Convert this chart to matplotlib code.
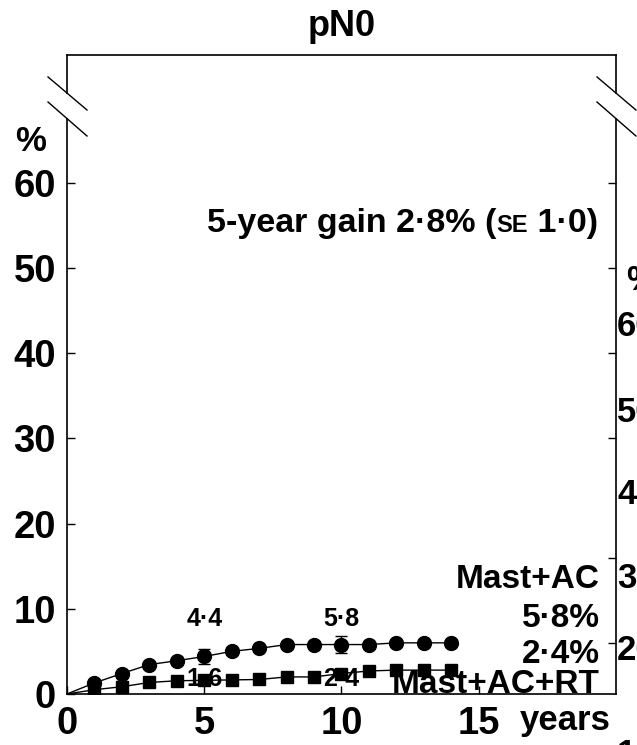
import matplotlib
matplotlib.use("Agg")
import matplotlib.pyplot as plt
import matplotlib.transforms as mtransforms

plt.rcParams["font.family"] = ["Liberation Sans", "DejaVu Sans"]
plt.rcParams["font.weight"] = "bold"

# cumulative risk (%) by year since randomisation
years = [0, 1, 2, 3, 4, 5, 6, 7, 8, 9, 10, 11, 12, 13, 14]
mast_ac = [0, 1.3, 2.4, 3.45, 3.9, 4.4, 5.0, 5.35, 5.8, 5.8, 5.8, 5.8, 6.0, 6.0, 6.0]
mast_ac_rt = [0, 0.5, 0.85, 1.35, 1.55, 1.6, 1.65, 1.7, 2.0, 2.0, 2.4, 2.7, 2.8, 2.8, 2.8]

se_years = [5, 10]
mast_ac_se = [0.9, 1.0]
mast_ac_rt_se = [0.4, 0.5]

# 10-year risks quoted at the right
risk_ac = 5.8
risk_ac_rt = 2.4

x_ticks = [0, 5, 10, 15]
y_ticks = [0, 10, 20, 30, 40, 50, 60]
right_ticks = [6, 16, 30, 40, 50, 60]

title = "pN0"
gain_parts = [("5-year gain 2·8% (", 24.5), ("SE", 17), (" 1·0)", 24.5)]


def fmt(v):
    return f"{v:.1f}".replace(".", "·")


fig = plt.figure(figsize=(6.37, 7.45), dpi=100)
ax = fig.add_axes([0.1052, 0.0685, 0.8618, 0.8577])

ax.set_xlim(0, 20)
ax.set_ylim(0, 75)

ax.plot(years, mast_ac, color="black", lw=1.0, marker="o", ms=10,
        markevery=slice(1, None), zorder=3)
ax.plot(years, mast_ac_rt, color="black", lw=1.0, marker="s", ms=8,
        markevery=slice(1, None), zorder=3)

ac_at = [mast_ac[years.index(y)] for y in se_years]
rt_at = [mast_ac_rt[years.index(y)] for y in se_years]
ax.errorbar(se_years, ac_at, yerr=mast_ac_se, fmt="none", ecolor="black",
            elinewidth=1.0, capsize=4, zorder=2)
ax.errorbar(se_years, rt_at, yerr=mast_ac_rt_se, fmt="none", ecolor="black",
            elinewidth=1.0, capsize=3, zorder=2)

# point values at 5 and 10 years
for y, v in zip(se_years, ac_at):
    ax.text(y, 8.8, fmt(v), ha="center", va="center", fontsize=18)
for y, v in zip(se_years, rt_at):
    ax.text(y, 1.75, fmt(v), ha="center", va="center", fontsize=18, zorder=4)

# curve labels at the right
lab_x = 19.42
ax.text(lab_x, 13.4, "Mast+AC", ha="right", va="center", fontsize=24, zorder=5)
ax.text(lab_x, 8.8, fmt(risk_ac) + "%", ha="right", va="center", fontsize=24,
        zorder=5)
ax.text(lab_x, 4.6, fmt(risk_ac_rt) + "%", ha="right", va="center",
        fontsize=24, zorder=5)
ax.text(lab_x, 1.1, "Mast+AC+RT", ha="right", va="center", fontsize=24,
        zorder=5)

# gain annotation, "SE" in small capitals
fig.canvas.draw()
renderer = fig.canvas.get_renderer()
px, py = ax.transAxes.transform((0.255, 0.723))
for txt, size in gain_parts:
    t = ax.text(px, py, txt, transform=None, ha="left", va="baseline",
                fontsize=size)
    px = t.get_window_extent(renderer).x1

# ticks and tick labels
ax.set_xticks(x_ticks)
ax.set_xticklabels([str(v) for v in x_ticks])
ax.set_yticks(y_ticks)
ax.set_yticklabels([str(v) for v in y_ticks])
ax.tick_params(axis="both", direction="in", length=6, width=1.0,
               labelsize=27.5, colors="black")
ax.tick_params(axis="x", pad=9)
ax.tick_params(axis="y", pad=8)
for lbl in ax.get_xticklabels() + ax.get_yticklabels():
    lbl.set_fontweight("bold")

sec = ax.secondary_yaxis("right")
sec.set_yticks(right_ticks)
sec.set_yticklabels([])
sec.tick_params(direction="in", length=6, width=1.0)
sec.spines["right"].set_visible(False)

blend = mtransforms.blended_transform_factory(ax.transData, ax.transAxes)
ax.text(18.15, -0.041, "years", transform=blend, ha="center", va="center",
        fontsize=25)
ax.text(-0.067, 0.864, "%", transform=ax.transAxes, ha="center", va="center",
        fontsize=25)

ax.set_title(title, fontsize=26, fontweight="bold", pad=14)

# broken vertical axes
ax.spines["left"].set_visible(False)
ax.spines["right"].set_visible(False)
for s in ("top", "bottom"):
    ax.spines[s].set_linewidth(1.2)
gap_lo, gap_hi = 0.8998, 0.9405
for xs in (0.0, 1.0):
    ax.plot([xs, xs], [0, gap_lo], transform=ax.transAxes, color="black",
            lw=1.2, clip_on=False)
    ax.plot([xs, xs], [gap_hi, 1], transform=ax.transAxes, color="black",
            lw=1.2, clip_on=False)
    for y0, y1 in ((0.9656, 0.9139), (0.9264, 0.8732)):
        ax.plot([xs - 0.0346, xs + 0.0364], [y0, y1], transform=ax.transAxes,
                color="black", lw=1.0, clip_on=False)

# edge of the neighbouring panel's y-axis labels
for txt, ypx in (("60", 327), ("50", 412), ("40", 495), ("30", 579),
                 ("20", 651), ("10", 754)):
    fig.text(617 / 637, 1 - ypx / 745, txt, ha="left", va="center",
             fontsize=25, fontweight="bold")
fig.text(626 / 637, 1 - 280 / 745, "%", ha="left", va="center", fontsize=25,
         fontweight="bold")

fig.savefig("out.png", dpi=100)
